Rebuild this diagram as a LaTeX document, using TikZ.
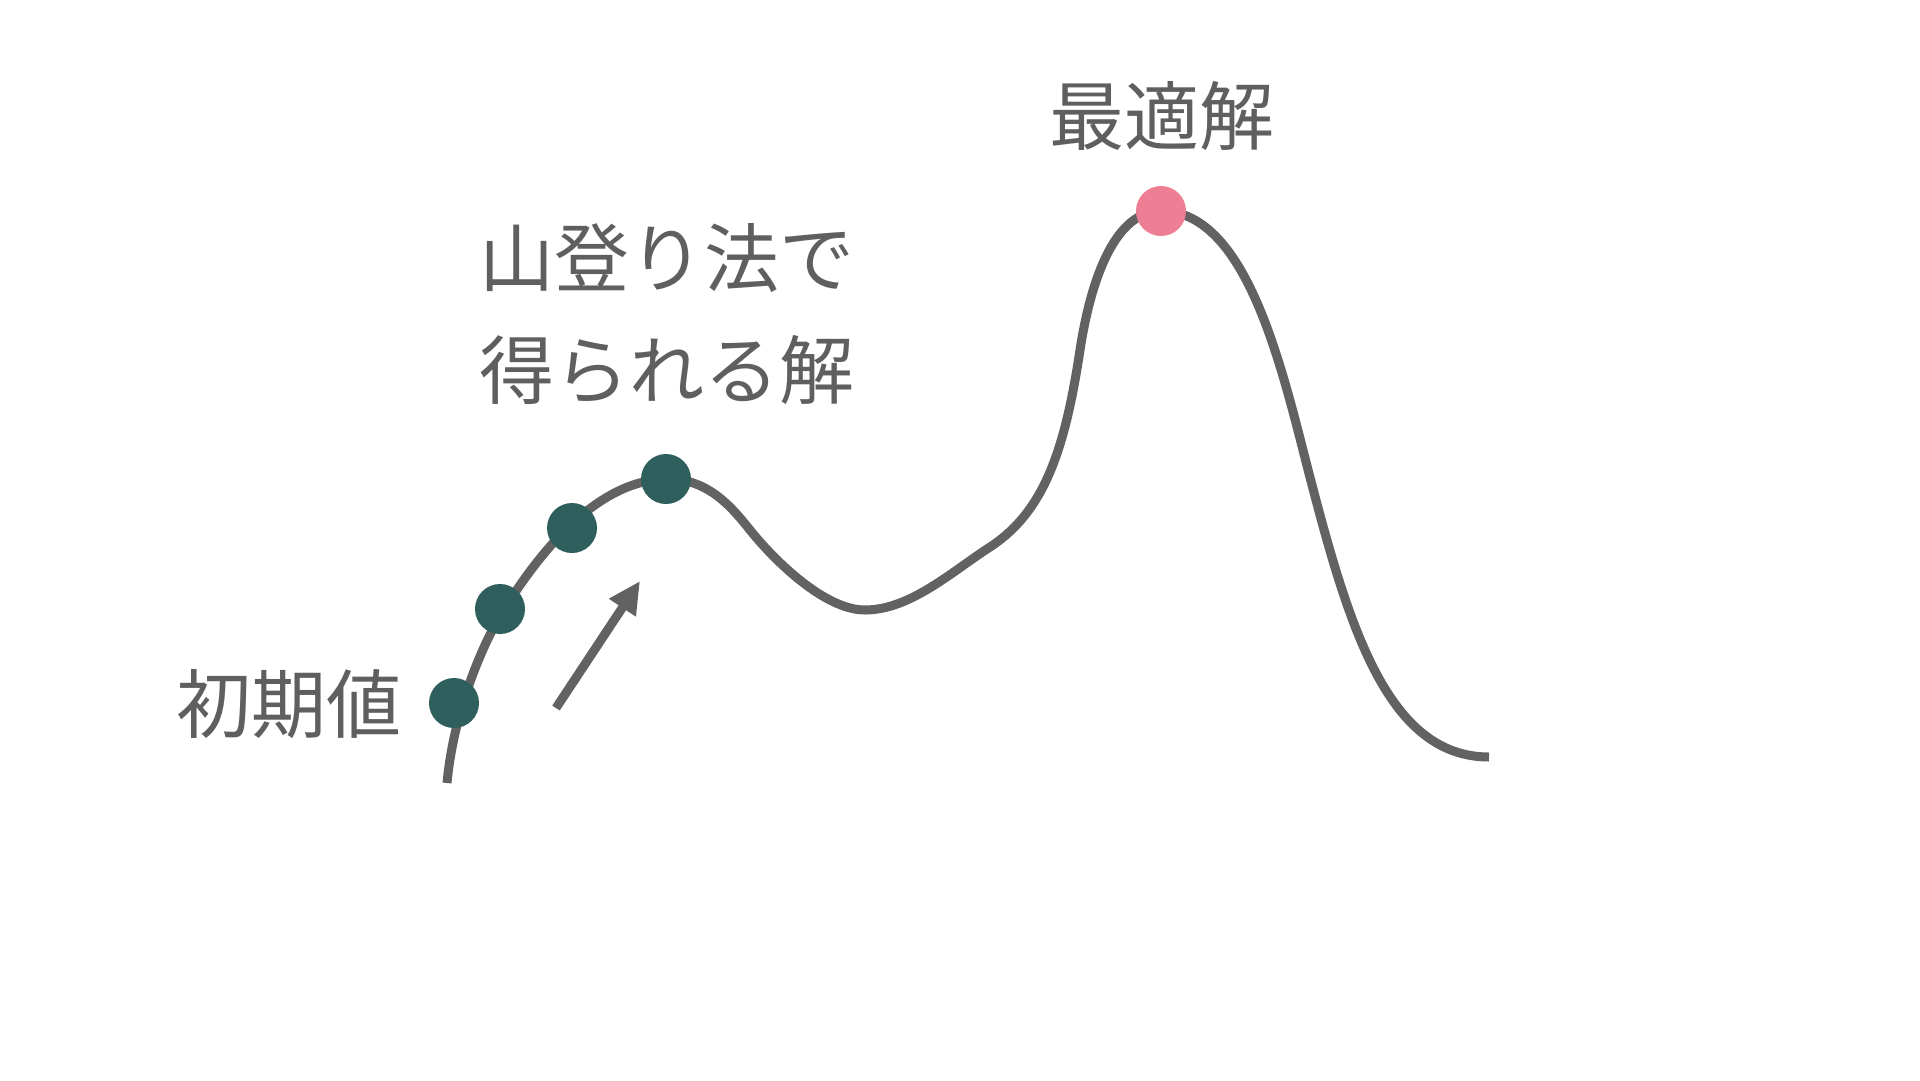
\documentclass[tikz,border=0pt]{standalone}
\usepackage{fontspec}
\setmainfont{Noto Sans CJK JP}
\usetikzlibrary{arrows.meta}
\definecolor{curvegray}{HTML}{626262}
\definecolor{textgray}{HTML}{5F5F5F}
\definecolor{dotteal}{HTML}{2E5F5C}
\definecolor{dotpink}{HTML}{EE7E93}
\begin{document}
\begin{tikzpicture}[x=1pt,y=-1pt,
  landscape/.style={line width=9pt, draw=curvegray, line cap=butt},
  pointdot/.style={circle, fill=dotteal, minimum size=50pt, inner sep=0pt},
  bestdot/.style={circle, fill=dotpink, minimum size=50pt, inner sep=0pt},
  lbl/.style={text=textgray, font=\fontsize{75}{112}\selectfont, inner sep=0pt, align=center},
  movearrow/.style={line width=9pt, draw=curvegray, -{Triangle[length=32pt,width=30pt]}}]
\fill[white] (0,0) rectangle (1920,1080);
\useasboundingbox (0,0) rectangle (1920,1080);
\draw[landscape] (447,783)
  .. controls (454,708.3) and (484.5,640.7) .. (503,611)
  .. controls (540,551.6) and (598,479) .. (668,479)
  .. controls (708,479) and (731.3,506.6) .. (750,530)
  .. controls (775,561.2) and (825,610) .. (865,610)
  .. controls (910,610) and (952,571.5) .. (990,547)
  .. controls (1044.5,511.6) and (1065,449) .. (1080,350)
  .. controls (1091.4,276) and (1116,211) .. (1161,211)
  .. controls (1250,211) and (1284,379) .. (1312,485)
  .. controls (1350,629.75) and (1389,757) .. (1489,757);
\node[pointdot] (p1) at (454,703) {};
\node[pointdot] (p2) at (500,609) {};
\node[pointdot] (p3) at (572,528) {};
\node[pointdot] (p4) at (666,479) {};
\node[bestdot] (opt) at (1161,211) {};
\coordinate (a0) at (556,708);
\coordinate (a1) at (640,581);
\draw[movearrow] (a0) -- (a1);
\node[lbl] (init) at (289,704) {初期値};
\node[lbl] (hc) at (667,314) {山登り法で\\得られる解};
\node[lbl] (optl) at (1162,116) {最適解};
\end{tikzpicture}
\end{document}
